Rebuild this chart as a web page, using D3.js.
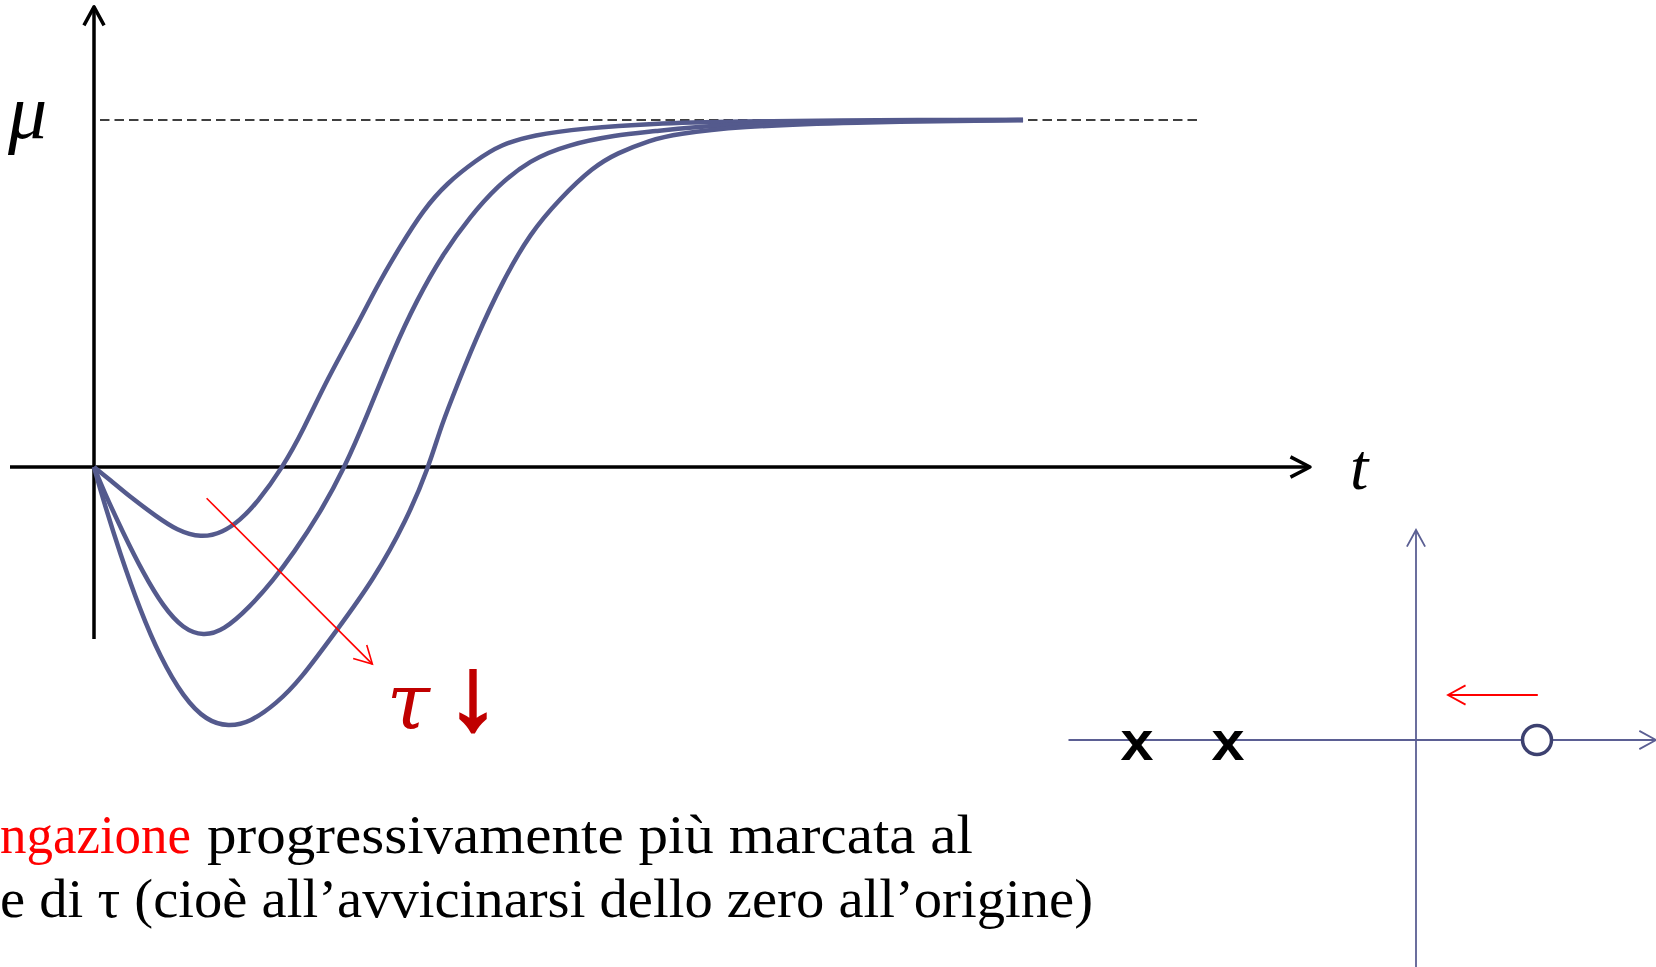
<!DOCTYPE html>
<html>
<head>
<meta charset="utf-8">
<script src="https://cdn.jsdelivr.net/npm/d3@7"></script>
<style>
body{margin:0;background:#fff}
svg{display:block}
</style>
</head>
<body>
<svg id="chart" width="1656" height="967"></svg>
<script>
// step response for three values of tau, y normalised to mu = 1
var mu = 1
var tauSmall = [[0,0],[0.171,-0.037],[0.385,-0.086],[0.670,-0.143],[0.884,-0.182],[1.144,-0.205],[1.382,-0.188],
    [1.561,-0.153],[1.739,-0.105],[2.020,0],[2.238,0.107],[2.488,0.251],[2.844,0.424],[3.022,0.520],[3.271,0.635],
    [3.520,0.741],[3.771,0.818],[4.091,0.885],[4.340,0.928],[4.696,0.957],[5.231,0.976],[5.944,0.990],
    [6.895,0.996],[8.082,0.999],[8.702,1],[9.932,1]]
var tauMid = [[0,0],[0.099,-0.066],[0.313,-0.191],[0.527,-0.306],[0.741,-0.403],[0.955,-0.467],[1.168,-0.487],
    [1.382,-0.472],[1.668,-0.403],[1.917,-0.326],[2.131,-0.249],[2.416,-0.133],[2.683,0],[2.915,0.145],[3.200,0.337],
    [3.450,0.481],[3.734,0.616],[4.020,0.721],[4.305,0.808],[4.661,0.885],[5.053,0.928],[5.588,0.957],[5.944,0.966],
    [6.671,0.988],[8.029,0.997],[9.269,1],[9.932,1]]
var tauLarge = [[0,0],[0.099,-0.095],[0.278,-0.249],[0.492,-0.412],[0.706,-0.547],[0.955,-0.664],[1.205,-0.732],
    [1.436,-0.748],[1.668,-0.736],[1.953,-0.681],[2.202,-0.614],[2.596,-0.470],[2.986,-0.326],[3.343,-0.153],
    [3.577,0],[3.699,0.107],[3.806,0.184],[4.091,0.376],[4.376,0.539],[4.661,0.673],[4.982,0.774],[5.338,0.865],
    [5.588,0.904],[5.944,0.942],[6.222,0.960],[6.895,0.981],[8.029,0.993],[9.932,1]]
var curves = [tauSmall, tauMid, tauLarge]

// pole-zero map (real parts)
var polesRe = [-2.79, -1.88]
var zerosRe = [1.21]

var textLine1 = ["ngazione", "progressivamente più marcata al"]
var textLine2 = "e di τ (cioè all’avvicinarsi dello zero all’origine)"

var svg = d3.select("#chart")
var x = d3.scaleLinear().domain([0, 13]).range([94, 1310])
var y = d3.scaleLinear().domain([0, 1]).range([467, 120])

function chevron(tx, ty, ang, len, spread){
    var a1 = ang + Math.PI - spread, a2 = ang + Math.PI + spread
    return "M" + (tx + len*Math.cos(a1)) + "," + (ty + len*Math.sin(a1)) +
        "L" + tx + "," + ty +
        "L" + (tx + len*Math.cos(a2)) + "," + (ty + len*Math.sin(a2))
}

// axes
var axes = svg.append("g").attr("stroke", "#000").attr("stroke-width", 3.5).attr("fill", "none")
    .attr("stroke-linejoin", "round")
axes.append("line").attr("x1", x(-0.898)).attr("x2", x(13)).attr("y1", y(0)).attr("y2", y(0))
axes.append("line").attr("x1", x(0)).attr("x2", x(0)).attr("y1", y(-0.496)).attr("y2", y(1.326))
axes.append("path").attr("d", chevron(x(13), y(0), 0, 22, 0.48))
axes.append("path").attr("d", chevron(x(0), y(1.326), -Math.PI/2, 21, 0.5))

// mu level
svg.append("line")
    .attr("x1", x(0.064)).attr("x2", x(11.83))
    .attr("y1", y(mu)).attr("y2", y(mu))
    .attr("stroke", "#000").attr("stroke-width", 1.6).attr("stroke-dasharray", "9.5,5")

var line = d3.line()
    .x(function(d){ return x(d[0]) })
    .y(function(d){ return y(d[1]) })
    .curve(d3.curveBasis)

svg.append("g").selectAll("path")
    .data(curves)
    .enter()
    .append("path")
        .attr("d", line)
        .attr("fill", "none")
        .attr("stroke", "#545a8d")
        .attr("stroke-width", 4.5)
        .attr("stroke-linejoin", "round")

// axis labels
svg.append("text").attr("x", 8).attr("y", 138)
    .attr("font-family", "Liberation Serif").attr("font-style", "italic").attr("font-size", 78)
    .text("μ")
svg.append("text").attr("x", 1350).attr("y", 489)
    .attr("font-family", "Liberation Serif").attr("font-style", "italic").attr("font-size", 66)
    .text("t")

// tau arrow
var ax0 = x(1.204), ay0 = y(-0.090), ax1 = x(2.976), ay1 = y(-0.568)
var ang = Math.atan2(ay1 - ay0, ax1 - ax0)
var red = svg.append("g").attr("stroke", "#ff0000").attr("stroke-width", 1.6).attr("fill", "none")
red.append("line").attr("x1", ax0).attr("y1", ay0).attr("x2", ax1).attr("y2", ay1)
red.append("path").attr("d", chevron(ax1, ay1, ang, 20, 0.5))

svg.append("text").attr("x", x(3.13)).attr("y", y(-0.755))
    .attr("font-family", "DejaVu Serif").attr("font-style", "italic").attr("font-size", 78)
    .attr("fill", "#c00000").text("τ")
svg.append("text").attr("x", 473).attr("y", y(-0.755))
    .attr("text-anchor", "middle")
    .attr("font-family", "Liberation Serif").attr("font-size", 104)
    .attr("fill", "#c00000").attr("stroke", "#c00000").attr("stroke-width", 3)
    .text("↓")

// caption
var capFont = "Liberation Serif", capSize = 54
svg.append("text").attr("x", 0).attr("y", 853)
    .attr("font-family", capFont).attr("font-size", capSize).attr("fill", "#ff0000")
    .attr("textLength", 191).attr("lengthAdjust", "spacingAndGlyphs")
    .text(textLine1[0])
svg.append("text").attr("x", 207).attr("y", 853)
    .attr("font-family", capFont).attr("font-size", capSize).attr("fill", "#000")
    .attr("textLength", 766).attr("lengthAdjust", "spacingAndGlyphs")
    .text(textLine1[1])
svg.append("text").attr("x", 0).attr("y", 917)
    .attr("font-family", capFont).attr("font-size", capSize).attr("fill", "#000")
    .attr("textLength", 1093).attr("lengthAdjust", "spacingAndGlyphs")
    .text(textLine2)

// pole-zero map
var px = d3.scaleLinear().domain([0, 1]).range([1416, 1516])
var py = d3.scaleLinear().domain([0, 1]).range([740, 640])
var pz = svg.append("g").attr("stroke", "#5b5f93").attr("stroke-width", 1.8).attr("fill", "none")
pz.append("line").attr("x1", px(-3.475)).attr("x2", px(2.40)).attr("y1", py(0)).attr("y2", py(0))
pz.append("line").attr("x1", px(0)).attr("x2", px(0)).attr("y1", py(-2.3)).attr("y2", py(2.10))
pz.append("path").attr("d", chevron(px(2.40), py(0), 0, 19, 0.5))
pz.append("path").attr("d", chevron(px(0), py(2.10), -Math.PI/2, 19, 0.5))

svg.append("g").selectAll("text")
    .data(polesRe)
    .enter()
    .append("text")
        .attr("x", function(d){ return px(d) - 17.5 })
        .attr("y", py(0) + 20)
        .attr("font-family", "Liberation Mono").attr("font-weight", "bold").attr("font-size", 56)
        .attr("textLength", 35).attr("lengthAdjust", "spacingAndGlyphs")
        .text("x")

svg.append("g").selectAll("circle")
    .data(zerosRe)
    .enter()
    .append("circle")
        .attr("cx", function(d){ return px(d) })
        .attr("cy", py(0))
        .attr("r", 14.5)
        .attr("fill", "#fff")
        .attr("stroke", "#3d4170")
        .attr("stroke-width", 3.5)

// zero moving towards the origin
var zx0 = px(1.218), zx1 = px(0.32), zy = py(0.45)
var red2 = svg.append("g").attr("stroke", "#ff0000").attr("stroke-width", 1.8).attr("fill", "none")
red2.append("line").attr("x1", zx0).attr("x2", zx1).attr("y1", zy).attr("y2", zy)
red2.append("path").attr("d", chevron(zx1, zy, Math.PI, 20, 0.5))
</script>
</body>
</html>
